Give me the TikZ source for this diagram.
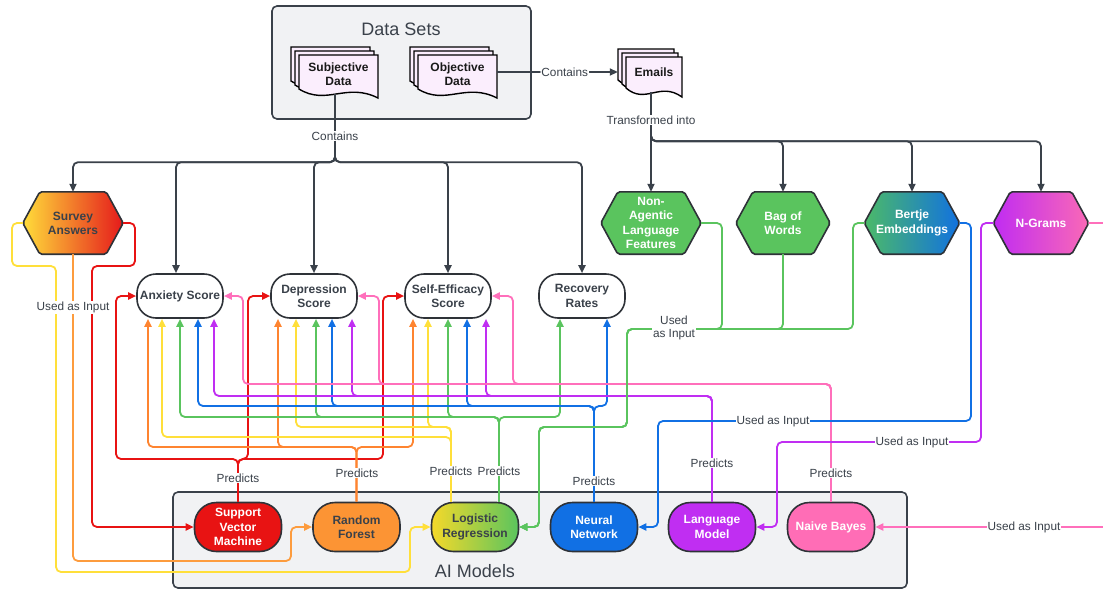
\documentclass[tikz,border=0pt]{standalone}
\usepackage{fontspec}
\setmainfont{Liberation Sans}
\usetikzlibrary{arrows.meta}
\definecolor{dk}{HTML}{3A414A}
\definecolor{cred}{HTML}{E81313}
\definecolor{corg}{HTML}{FE8430}
\definecolor{corgb}{HTML}{FD9C3E}
\definecolor{cyel}{HTML}{FFDF3A}
\definecolor{cgrn}{HTML}{5AC45E}
\definecolor{cblu}{HTML}{1170E4}
\definecolor{cpur}{HTML}{C02EF2}
\definecolor{cpnk}{HTML}{FF6FBB}
\definecolor{boxfill}{HTML}{F1F2F4}
\definecolor{docfill}{HTML}{FBEEFD}
\definecolor{border}{HTML}{2E3238}
\definecolor{rffill}{HTML}{FC9434}
\definecolor{nbfill}{HTML}{FF6DB6}
\definecolor{lryel}{HTML}{F5D92A}
\definecolor{svyel}{HTML}{FFDD3A}
\definecolor{svred}{HTML}{E5191B}
\definecolor{bgrn}{HTML}{4CBA68}
\definecolor{bblu}{HTML}{1171E0}
\definecolor{npur}{HTML}{C02CF2}
\definecolor{npnk}{HTML}{FA69B6}
\pgfdeclarelayer{bg}
\pgfdeclarelayer{shp}
\pgfsetlayers{bg,shp,main}
\tikzset{
  conn/.style={line width=1.8pt, rounded corners=5pt, -{Triangle[length=8pt,width=7pt]}},
  nodefont/.style={font=\bfseries\fontsize{12}{14.2}\selectfont, align=center},
  score/.style={nodefont, draw=border, line width=1.6pt, fill=white, rounded corners=19pt, minimum width=86pt, minimum height=44pt, inner sep=0pt, text=dk},
  model/.style={nodefont, draw=border, line width=1.6pt, rounded corners=22pt, minimum width=87pt, minimum height=49pt, inner sep=0pt},
  hexn/.style={nodefont, minimum height=62pt, inner sep=0pt},
  hexd/.style={draw=border, line width=1.6pt, rounded corners=2pt},
  docn/.style={nodefont, text=black!90, minimum height=40pt, inner sep=0pt},
  lbl/.style={font=\fontsize{11.8}{13.2}\selectfont, text=dk, fill=white, inner sep=1pt, align=center},
  titletext/.style={font=\fontsize{18}{20}\selectfont, text=dk},
  container/.style={draw=dk, line width=1.6pt, fill=boxfill, rounded corners=5pt}
}
\newcommand\hexpath[2]{%
  \begin{pgfonlayer}{shp}
  \path[hexd,#2] (#1.west) -- ([xshift=17pt]#1.north west) -- ([xshift=-17pt]#1.north east) -- (#1.east) -- ([xshift=-17pt]#1.south east) -- ([xshift=17pt]#1.south west) -- cycle;
  \end{pgfonlayer}}
\newcommand\docshape[4]{%
  \path[draw=black, line width=1.4pt, fill=docfill] ({#1},{#2}) -- ({#1+#3},{#2}) -- ({#1+#3},{#2+#4}) .. controls ({#1+0.6*#3},{#2+#4-16}) and ({#1+0.35*#3},{#2+#4+8}) .. ({#1},{#2+#4-9}) -- cycle;}
\newcommand\multidoc[4]{%
  \begin{pgfonlayer}{shp}
  \docshape{#1-8}{#2-8}{#3}{#4}
  \docshape{#1-4}{#2-4}{#3}{#4}
  \docshape{#1}{#2}{#3}{#4}
  \end{pgfonlayer}}
\begin{document}
\begin{tikzpicture}[x=1pt,y=-1pt]
\useasboundingbox (0,0) rectangle (1103,590);
\begin{pgfonlayer}{bg}
  \draw[container] (272,6) rectangle (531,119);
  \draw[container] (173,492) rectangle (907,588);
\end{pgfonlayer}
\node[titletext] (dstitle) at (401,29) {Data Sets};
\node[titletext] (aititle) at (475,571) {AI Models};

% documents
\multidoc{299}{55}{79}{43}
\multidoc{418}{55}{79}{43}
\multidoc{626}{57}{56}{40}
\node[docn, minimum width=79pt] (subj) at (338.5,74) {Subjective\\Data};
\node[docn, minimum width=79pt] (obj) at (457.5,74) {Objective\\Data};
\node[docn, minimum width=56pt] (emails) at (654,72) {Emails};

% hexagons
\node[hexn, minimum width=100pt, text=dk] (survey) at (73,223) {Survey\\Answers};
\hexpath{survey}{left color=svyel, right color=svred}
\node[hexn, minimum width=100pt, text=white] (nonag) at (651,223) {Non-\\Agentic\\Language\\Features};
\hexpath{nonag}{fill=cgrn}
\node[hexn, minimum width=94pt, text=white] (bow) at (783,223) {Bag of\\Words};
\hexpath{bow}{fill=cgrn}
\node[hexn, minimum width=95pt, text=white] (bertje) at (912,223) {Bertje\\Embeddings};
\hexpath{bertje}{left color=bgrn, right color=bblu}
\node[hexn, minimum width=95pt, text=white] (ngrams) at (1041,223) {N-Grams};
\hexpath{ngrams}{left color=npur, right color=npnk}

% scores
\node[score] (anx) at (180,296) {Anxiety Score};
\node[score] (dep) at (314,296) {Depression\\Score};
\node[score] (self) at (448,296) {Self-Efficacy\\Score};
\node[score] (rec) at (582,296) {Recovery\\Rates};

% models
\node[model, fill=cred, text=white] (svm) at (238,527) {Support\\Vector\\Machine};
\node[model, fill=rffill, text=dk] (rf) at (356.5,527) {Random\\Forest};
\node[model, left color=lryel, right color=cgrn, text=dk] (lr) at (475,527) {Logistic\\Regression};
\node[model, fill=cblu, text=white] (nn) at (594,527) {Neural\\Network};
\node[model, fill=cpur, text=white] (lm) at (712,527) {Language\\Model};
\node[model, fill=nbfill, text=white] (nb) at (831,527) {Naive Bayes};

% dark connectors
\draw[conn,dk] ([xshift=-3.5pt]subj.south) -- ++(0,68) -| (survey.north);
\draw[conn,dk] ([xshift=-3.5pt]subj.south) -- ++(0,68) -| ([xshift=-4pt]anx.north);
\draw[conn,dk] ([xshift=-3.5pt]subj.south) -- ++(0,68) -| (dep.north);
\draw[conn,dk] ([xshift=-3.5pt]subj.south) -- ++(0,68) -| (self.north);
\draw[conn,dk] ([xshift=-3.5pt]subj.south) -- ++(0,68) -| (rec.north);
\draw[conn,dk] ([xshift=-3pt]emails.south) -- ++(0,49) -| (nonag.north);
\draw[conn,dk] ([xshift=-3pt]emails.south) -- ++(0,49) -| (bow.north);
\draw[conn,dk] ([xshift=-3pt]emails.south) -- ++(0,49) -| (bertje.north);
\draw[conn,dk] ([xshift=-3pt]emails.south) -- ++(0,49) -| (ngrams.north);
\draw[conn,dk] ([yshift=2pt]obj.east) -- node[lbl,pos=0.56] (lcont) {Contains} ([xshift=-8pt]emails.west);

% predicts: SVM (red)
\draw[conn,cred] (svm.north) |- (116,459) |- (anx.west);
\draw[conn,cred] (svm.north) |- (248,459) |- (dep.west);
\draw[conn,cred] (svm.north) |- (383,459) |- (self.west);
% RF (orange)
\draw[conn,corg] (rf.north) |- (148,447) -- ([xshift=-32pt]anx.south);
\draw[conn,corg] (rf.north) |- (278,447) -- ([xshift=-36pt]dep.south);
\draw[conn,corg] (rf.north) |- (413,447) -- ([xshift=-35pt]self.south);
% LR (yellow)
\draw[conn,cyel] ([xshift=-24pt]lr.north) |- (162,437) -- ([xshift=-18pt]anx.south);
\draw[conn,cyel] ([xshift=-24pt]lr.north) |- (296,427) -- ([xshift=-18pt]dep.south);
\draw[conn,cyel] ([xshift=-24pt]lr.north) |- (428,427) -- ([xshift=-20pt]self.south);
% LR (green)
\draw[conn,cgrn] ([xshift=24pt]lr.north) |- (180,417) -- (anx.south);
\draw[conn,cgrn] ([xshift=24pt]lr.north) |- (316,417) -- ([xshift=2pt]dep.south);
\draw[conn,cgrn] ([xshift=24pt]lr.north) |- (448,417) -- (self.south);
\draw[conn,cgrn] ([xshift=24pt]lr.north) |- (560,417) -- ([xshift=-22pt]rec.south);
% NN (blue)
\draw[conn,cblu] (nn.north) |- (198,406) -- ([xshift=18pt]anx.south);
\draw[conn,cblu] (nn.north) |- (332,406) -- ([xshift=18pt]dep.south);
\draw[conn,cblu] (nn.north) |- (467,406) -- ([xshift=19pt]self.south);
\draw[conn,cblu] (nn.north) |- (607,406) -- ([xshift=25pt]rec.south);
% LM (purple)
\draw[conn,cpur] (lm.north) |- (214,396) -- ([xshift=34pt]anx.south);
\draw[conn,cpur] (lm.north) |- (352,396) -- ([xshift=38pt]dep.south);
\draw[conn,cpur] (lm.north) |- (486,396) -- ([xshift=38pt]self.south);
% NB (pink)
\draw[conn,cpnk] (nb.north) |- (243,384) |- (anx.east);
\draw[conn,cpnk] (nb.north) |- (379,384) |- (dep.east);
\draw[conn,cpnk] (nb.north) |- (513,384) |- (self.east);

% inputs
\draw[conn,cyel] (survey.west) -| (12,266) -| (56,572) -| (410,527) -- (lr.west);
\draw[conn,corgb] (survey.south) |- (291,561) |- (rf.west);
\draw[conn,cred] (survey.east) -| (135,266) -| (92,527) -- (svm.west);
\draw[conn,cgrn] (nonag.east) -| (722,329) -| (627,427) -| (539,527) -- (lr.east);
\draw[conn,cgrn] (bow.south) |- (627,329) |- (539,427) |- (lr.east);
\draw[conn,cgrn] (bertje.west) -| (853,329) -| (627,427) -| (539,527) -- (lr.east);
\draw[conn,cblu] (bertje.east) -| (971,421) -| (658,527) -- (nn.east);
\draw[conn,cpur] (ngrams.west) -| (981,442) -| (777,527) -- (lm.east);
\draw[conn,cpnk] (ngrams.east) -| (1118,527) -- (nb.east);

% labels
\node[lbl] (lcont2) at (335,136) {Contains};
\node[lbl] (ltrans) at (651,120) {Transformed into};
\node[lbl] (lin1) at (73,307) {Used as Input};
\node[lbl] (lin2) at (674,328) {Used\\as Input};
\node[lbl] (lin3) at (773,421) {Used as Input};
\node[lbl] (lin4) at (912,442) {Used as Input};
\node[lbl] (lin5) at (1024,527) {Used as Input};
\node[lbl] (lp1) at (238,478) {Predicts};
\node[lbl] (lp2) at (357,473) {Predicts};
\node[lbl] (lp3) at (451,471) {Predicts};
\node[lbl] (lp4) at (499,471) {Predicts};
\node[lbl] (lp5) at (594,481) {Predicts};
\node[lbl] (lp6) at (712,463) {Predicts};
\node[lbl] (lp7) at (831,473) {Predicts};
\end{tikzpicture}
\end{document}
